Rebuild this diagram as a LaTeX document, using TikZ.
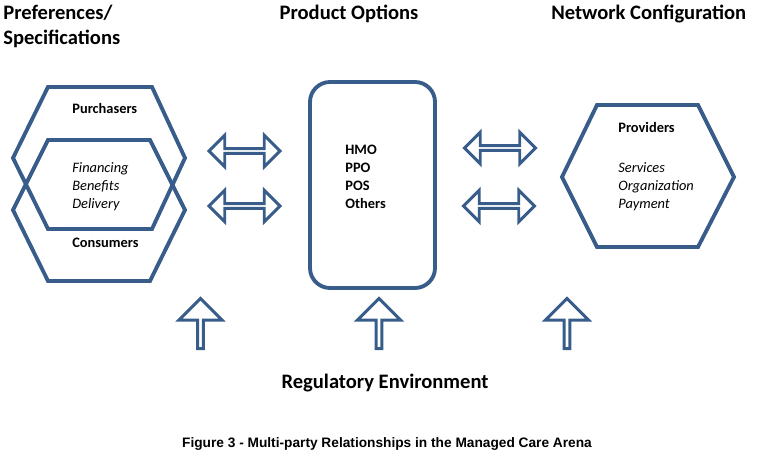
\documentclass[tikz,border=0pt]{standalone}
\usepackage{fontspec}
\setmainfont{Carlito}
\newfontfamily\capfont{Liberation Sans}
\usepackage{tikz}
\usetikzlibrary{arrows,calc,positioning,shapes,shapes.arrows}
\definecolor{shapeblue}{HTML}{385D8A}

\begin{document}
\begin{tikzpicture}[x=0.02cm,y=-0.02cm,
        hexline/.style={draw=shapeblue,line width=2.2pt,line join=miter},
        twoway/.style={double arrow,draw=shapeblue,line width=1.7pt,minimum height=1.42cm,minimum width=0.63cm,double arrow head extend=0.16cm,inner sep=0pt},
        upward/.style={single arrow,draw=shapeblue,line width=1.7pt,rotate=90,minimum height=1.0cm,minimum width=0.86cm,single arrow head extend=0.2cm,inner sep=0pt},
        titletext/.style={font=\fontsize{11.7}{14}\selectfont\bfseries,inner sep=0pt},
        entry/.style={font=\fontsize{8.2}{10.4}\selectfont,inner sep=0pt,align=left,anchor=base west}]
        \path (0,0) rectangle (762,469);

        \node[titletext,anchor=base west] (prefs) at (3,20) {Preferences/};
        \node[titletext,anchor=base west] (specs) at (3,45) {Specifications};
        \node[titletext,anchor=base] (options) at (349,20) {Product Options};
        \node[titletext,anchor=base west] (network) at (551,20) {Network Configuration};

        \begin{scope}
            \draw[hexline] (13,158) -- (48,87) -- (152,87) -- (185,158) -- (152,229) -- (48,229) -- cycle;
            \draw[hexline] (13,210) -- (48,140) -- (150,140) -- (185,210) -- (150,281) -- (48,281) -- cycle;
            \node[entry] (purchasers) at (72,114) {\bfseries Purchasers};
            \node[entry] (financing) at (72,209) {\itshape Financing\\\itshape Benefits\\\itshape Delivery};
            \node[entry] (consumers) at (72,248) {\bfseries Consumers};
        \end{scope}

        \begin{scope}
            \draw[hexline,rounded corners=0.4cm] (310,82) rectangle (435,288);
            \node[entry] (plans) at (345,209) {\bfseries HMO\\\bfseries PPO\\\bfseries POS\\\bfseries Others};
        \end{scope}

        \begin{scope}
            \draw[hexline] (562,177) -- (597,105) -- (698,105) -- (734,177) -- (698,247) -- (597,247) -- cycle;
            \node[entry] (providers) at (618,133) {\bfseries Providers};
            \node[entry] (services) at (618,209) {\itshape Services\\\itshape Organization\\\itshape Payment};
        \end{scope}

        \node[twoway] (L1) at (244.5,151) {};
        \node[twoway] (L2) at (244.5,206) {};
        \node[twoway] (R1) at (500,148) {};
        \node[twoway] (R2) at (499,206) {};

        \node[upward] (U1) at (200.5,325) {};
        \node[upward] (U2) at (379,325) {};
        \node[upward] (U3) at (567,325) {};

        \node[titletext,anchor=base] (regulatory) at (385,389) {Regulatory Environment};
        \node[anchor=base,inner sep=0pt,font=\capfont\bfseries\fontsize{7.8}{9}\selectfont] (caption) at (387,448) {Figure 3 - Multi-party Relationships in the Managed Care Arena};
    \end{tikzpicture}
\end{document}
